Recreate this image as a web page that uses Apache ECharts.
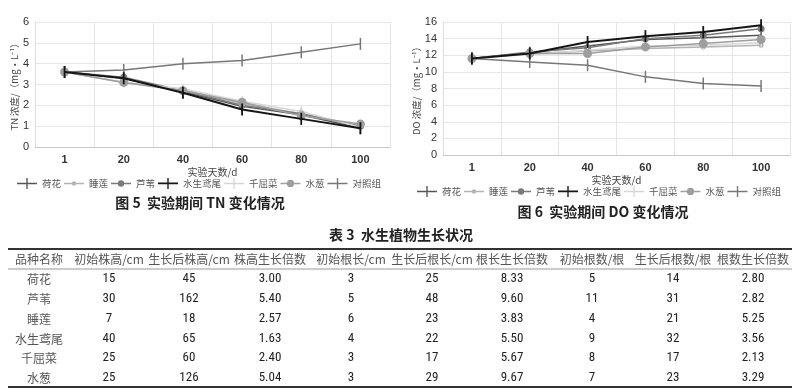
<!DOCTYPE html>
<html><head><meta charset="utf-8">
<script src="https://cdn.jsdelivr.net/npm/echarts@6/dist/echarts.min.js"></script>
<style>html,body{margin:0;padding:0;background:#fff}#c{width:800px;height:392px}</style>
</head><body><div id="c"></div>
<script>
// ---------- data ----------
var days = ['1', '20', '40', '60', '80', '100'];
var seriesNames = ['荷花', '睡莲', '芦苇', '水生鸢尾', '千屈菜', '水葱', '对照组'];
var tnHehua   = [3.6, 3.3, 2.65, 1.95, 1.55, 0.9];
var tnShuilian= [3.6, 3.1, 2.75, 2.1, 1.6, 1.0];
var tnLuwei   = [3.6, 3.35, 2.7, 2.0, 1.6, 1.0];
var tnYuanwei = [3.6, 3.3, 2.6, 1.8, 1.35, 0.9];
var tnQianqu  = [3.6, 3.1, 2.8, 2.2, 1.7, 0.95];
var tnShuicong= [3.6, 3.1, 2.7, 2.15, 1.5, 1.1];
var tnControl = [3.6, 3.7, 4.0, 4.15, 4.55, 4.95];
var doHehua   = [11.6, 12.3, 13.1, 13.9, 14.1, 14.4];
var doShuilian= [11.6, 12.2, 12.5, 12.8, 13.0, 13.2];
var doLuwei   = [11.6, 12.4, 12.9, 14.0, 14.4, 15.2];
var doYuanwei = [11.6, 12.2, 13.6, 14.3, 14.8, 15.6];
var doQianqu  = [11.6, 12.1, 12.6, 13.1, 13.2, 13.5];
var doShuicong= [11.6, 12.2, 12.2, 13.0, 13.4, 13.9];
var doControl = [11.6, 11.2, 10.8, 9.4, 8.6, 8.3];

var tableHeaders = ['品种名称', '初始株高/cm', '生长后株高/cm', '株高生长倍数', '初始根长/cm', '生长后根长/cm', '根长生长倍数', '初始根数/根', '生长后根数/根', '根数生长倍数'];
var plantNames   = ['荷花', '芦苇', '睡莲', '水生鸢尾', '千屈菜', '水葱'];
var initHeight   = ['15', '30', '7', '40', '25', '25'];
var grownHeight  = ['45', '162', '18', '65', '60', '126'];
var heightRatio  = ['3.00', '5.40', '2.57', '1.63', '2.40', '5.04'];
var initRoot     = ['3', '5', '6', '4', '3', '3'];
var grownRoot    = ['25', '48', '23', '22', '17', '29'];
var rootRatio    = ['8.33', '9.60', '3.83', '5.50', '5.67', '9.67'];
var initRootNum  = ['5', '11', '4', '9', '8', '7'];
var grownRootNum = ['14', '31', '21', '32', '17', '23'];
var rootNumRatio = ['2.80', '2.82', '5.25', '3.56', '2.13', '3.29'];

// ---------- styles ----------
var bar = 'path://M0,0h2v16h-2z';
function crossIcon(t) {
  var a = 6 - t / 2, b = 6 + t / 2;
  return 'path://M0,' + a + 'H10.25V0H11.75V' + a + 'H22V' + b + 'H11.75V12H10.25V' + b + 'H0Z';
}
function circleIcon(r, t) {
  var a = 6 - t / 2, b = 6 + t / 2;
  return 'path://M11,0L11,0M11,12L11,12M0,' + a + 'H22V' + b + 'H0Z' +
    'M' + (11 - r) + ',6A' + r + ',' + r + ' 0 1 1 ' + (11 + r) + ',6A' + r + ',' + r + ' 0 1 1 ' + (11 - r) + ',6Z';
}
var styles = [
  {color: '#555555', width: 1.5, symbol: bar, size: [1.5, 12], icon: crossIcon(1.6)},
  {color: '#b3b3b3', width: 1.5, symbol: 'circle', size: 5, icon: circleIcon(2.5, 1.6)},
  {color: '#7a7a7a', width: 1.5, symbol: 'circle', size: 7, icon: circleIcon(3.5, 1.6)},
  {color: '#151515', width: 2, symbol: bar, size: [1.8, 12], icon: crossIcon(2)},
  {color: '#d6d6d6', width: 1.5, symbol: bar, size: [1.5, 10], icon: crossIcon(1.6)},
  {color: '#9e9e9e', width: 1.5, symbol: 'circle', size: 9, icon: circleIcon(4, 1.6)},
  {color: '#777777', width: 1.5, symbol: bar, size: [1.5, 12], icon: crossIcon(1.6)}
];
var tnData = [tnHehua, tnShuilian, tnLuwei, tnYuanwei, tnQianqu, tnShuicong, tnControl];
var doData = [doHehua, doShuilian, doLuwei, doYuanwei, doQianqu, doShuicong, doControl];
var drawOrder = [6, 0, 1, 2, 4, 5, 3];

var series = [];
[tnData, doData].forEach(function (set, gi) {
  drawOrder.forEach(function (i) {
    var s = styles[i];
    series.push({
      type: 'line', name: seriesNames[i], xAxisIndex: gi, yAxisIndex: gi,
      data: set[i], symbol: s.symbol, symbolSize: s.size, showSymbol: true,
      symbolKeepAspect: false,
      lineStyle: {color: s.color, width: s.width},
      itemStyle: {color: s.color}, z: 2 + drawOrder.indexOf(i)
    });
  });
});

var cjk = 'Noto Sans CJK SC';
var axisLabel = {color: '#333', fontSize: 11, fontFamily: 'Liberation Sans'};

function xAx(gi) {
  return {
    gridIndex: gi, type: 'category', data: days, boundaryGap: true,
    name: '实验天数/d', nameLocation: 'middle', nameGap: 20,
    nameTextStyle: {color: '#444', fontSize: 10, fontFamily: cjk},
    axisLine: {lineStyle: {color: '#c8c8c8'}}, axisTick: {show: false},
    axisLabel: Object.assign({margin: 7, fontWeight: 'bold'}, axisLabel),
    splitLine: {show: true, lineStyle: {color: '#e6e6e6'}}
  };
}
function yAx(gi, max, interval, name, gap) {
  return {
    gridIndex: gi, type: 'value', min: 0, max: max, interval: interval,
    name: name, nameLocation: 'middle', nameGap: gap, nameRotate: 90,
    nameTextStyle: {color: '#444', fontSize: 9.5, fontFamily: cjk},
    axisLine: {show: true, lineStyle: {color: '#dcdcdc'}}, axisTick: {show: false},
    axisLabel: Object.assign({margin: 6}, axisLabel),
    splitLine: {show: true, lineStyle: {color: '#e6e6e6'}}
  };
}
function legend(left, top) {
  return {
    data: seriesNames.map(function (n, i) { return {name: n, icon: styles[i].icon}; }),
    left: left, top: top, width: 381, padding: 0,
    itemWidth: 20, itemHeight: 12, itemGap: 3,
    textStyle: {color: '#555', fontSize: 9.5, fontFamily: cjk}
  };
}

// ---------- table graphic ----------
var colX = [39, 109, 189, 270, 351, 432, 512, 592, 673, 753];
var rowY = [279, 299, 319, 339, 358, 378];
var columns = [plantNames, initHeight, grownHeight, heightRatio, initRoot, grownRoot, rootRatio, initRootNum, grownRootNum, rootNumRatio];
var graphics = [];
function txt(x, y, t, font, color, weight) {
  graphics.push({type: 'text', x: x, y: y, silent: true,
    style: {text: t, textAlign: 'center', textVerticalAlign: 'middle', fill: color, font: (weight || 'normal') + ' ' + font}});
}
function hline(y, w, color) {
  graphics.push({type: 'line', silent: true, shape: {x1: 8, y1: y, x2: 792, y2: y}, style: {stroke: color, lineWidth: w}});
}
txt(200, 203, '图 5  实验期间 TN 变化情况', '14px "Noto Sans CJK SC", sans-serif', '#222', 'bold');
txt(603, 212, '图 6  实验期间 DO 变化情况', '14px "Noto Sans CJK SC", sans-serif', '#222', 'bold');
txt(401, 235, '表 3  水生植物生长状况', '14px "Noto Sans CJK SC", sans-serif', '#222', 'bold');
hline(249, 2, '#333');
hline(269, 1, '#999');
hline(387, 2, '#333');
tableHeaders.forEach(function (h, i) {
  txt(colX[i], 259, h, '12px "Noto Sans CJK SC", sans-serif', '#555');
});
columns.forEach(function (col, ci) {
  col.forEach(function (v, ri) {
    if (ci === 0) txt(colX[ci], rowY[ri], v, '12px "Noto Sans CJK SC", serif', '#555');
    else txt(colX[ci], rowY[ri], v, '13px "Liberation Sans Narrow", "Roboto Condensed", "Liberation Sans", sans-serif', '#222');
  });
});

var chart = echarts.init(document.getElementById('c'), null, {renderer: 'canvas'});
chart.setOption({
  animation: false,
  backgroundColor: '#fff',
  grid: [
    {left: 35, top: 22, width: 355, height: 125},
    {left: 443, top: 22, width: 347, height: 133}
  ],
  xAxis: [xAx(0), xAx(1)],
  yAxis: [yAx(0, 6, 1, 'TN 浓度/（mg•L⁻¹）', 13), yAx(1, 16, 2, 'DO 浓度/（mg•L⁻¹）', 17)],
  legend: [legend(17, 178), legend(417, 186)],
  series: series,
  graphic: graphics
});
</script></body></html>
